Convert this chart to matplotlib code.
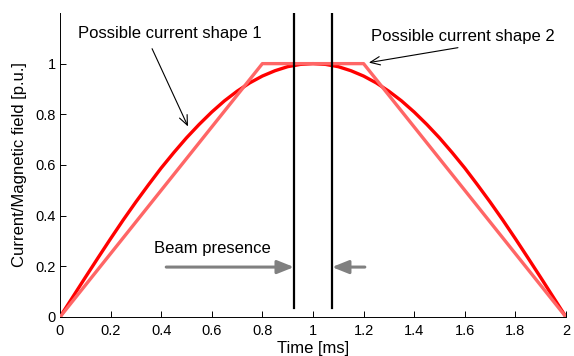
import matplotlib
matplotlib.use('Agg')
import matplotlib.pyplot as plt

# Données (courbe sinusoïdale, pas de 0.05 ms)
t_sinus = [0.0, 0.05, 0.1, 0.15, 0.2, 0.25, 0.3, 0.35, 0.4, 0.45, 0.5,
           0.55, 0.6, 0.65, 0.7, 0.75, 0.8, 0.85, 0.9, 0.95, 1.0,
           1.05, 1.1, 1.15, 1.2, 1.25, 1.3, 1.35, 1.4, 1.45, 1.5,
           1.55, 1.6, 1.65, 1.7, 1.75, 1.8, 1.85, 1.9, 1.95, 2.0]
i_sinus = [0.0, 0.078, 0.156, 0.233, 0.309, 0.383, 0.454, 0.522, 0.588, 0.649, 0.707,
           0.760, 0.809, 0.853, 0.891, 0.924, 0.951, 0.972, 0.988, 0.997, 1.0,
           0.997, 0.988, 0.972, 0.951, 0.924, 0.891, 0.853, 0.809, 0.760, 0.707,
           0.649, 0.588, 0.522, 0.454, 0.383, 0.309, 0.233, 0.156, 0.078, 0.0]

t_trapeze = [0.0, 0.8, 1.2, 2.0]
i_trapeze = [0.0, 1.0, 1.0, 0.0]

# Limites de présence du faisceau
t_faisceau = [0.925, 1.075]

xticks = [0, 0.2, 0.4, 0.6, 0.8, 1, 1.2, 1.4, 1.6, 1.8, 2]
yticks = [0, 0.2, 0.4, 0.6, 0.8, 1]

plt.rcParams['font.family'] = ['Liberation Sans', 'DejaVu Sans']

fig = plt.figure(figsize=(5.74, 3.56), dpi=100)
ax = fig.add_axes([0.1045, 0.1096, 0.8815, 0.854])

ax.plot(t_sinus, i_sinus, color='#ff0000', linewidth=2.4, zorder=2,
        solid_joinstyle='round')
ax.plot(t_trapeze, i_trapeze, color='#ff6666', linewidth=2.4, zorder=3)

for tb in t_faisceau:
    ax.plot([tb, tb], [0.035, 1.2], color='black', linewidth=1.6, zorder=4)

# Flèches grises (présence du faisceau)
ax.annotate('', xy=(t_faisceau[0], 0.197), xytext=(0.42, 0.197),
            arrowprops=dict(arrowstyle='-|>,head_length=1.0,head_width=0.4',
                            color='#808080', lw=2.2, shrinkA=0, shrinkB=0))
ax.annotate('', xy=(t_faisceau[1], 0.197), xytext=(1.205, 0.197),
            arrowprops=dict(arrowstyle='-|>,head_length=1.0,head_width=0.4',
                            color='#808080', lw=2.2, shrinkA=0, shrinkB=0))
ax.text(0.37, 0.27, 'Beam presence', fontsize=12, va='center', ha='left')

# Annotations des formes de courant
ax.annotate('', xy=(0.506, 0.752), xytext=(0.364, 1.059),
            arrowprops=dict(arrowstyle='->,head_length=0.7,head_width=0.3',
                            color='black', lw=0.8, shrinkA=0, shrinkB=0))
ax.text(0.07, 1.118, 'Possible current shape 1', fontsize=12, va='center', ha='left')
ax.annotate('', xy=(1.221, 1.004), xytext=(1.573, 1.063),
            arrowprops=dict(arrowstyle='->,head_length=0.7,head_width=0.3',
                            color='black', lw=0.8, shrinkA=0, shrinkB=0))
ax.text(1.229, 1.106, 'Possible current shape 2', fontsize=12, va='center', ha='left')

ax.set_xlim(0, 2)
ax.set_ylim(0, 1.2)
ax.set_xticks(xticks)
ax.set_xticklabels(['0', '0.2', '0.4', '0.6', '0.8', '1', '1.2', '1.4', '1.6', '1.8', '2'])
ax.set_yticks(yticks)
ax.set_yticklabels(['0', '0.2', '0.4', '0.6', '0.8', '1'])
ax.tick_params(direction='in', length=4, width=0.7, labelsize=10.5)
ax.tick_params(axis='x', pad=5)
ax.tick_params(axis='y', pad=3)

ax.spines['top'].set_visible(False)
ax.spines['right'].set_visible(False)
ax.spines['left'].set_linewidth(0.7)
ax.spines['bottom'].set_linewidth(0.7)

ax.set_xlabel('Time [ms]', fontsize=12, labelpad=2)
ax.set_ylabel('Current/Magnetic field [p.u.]', fontsize=12, labelpad=6)

fig.savefig('out.png', dpi=100)
